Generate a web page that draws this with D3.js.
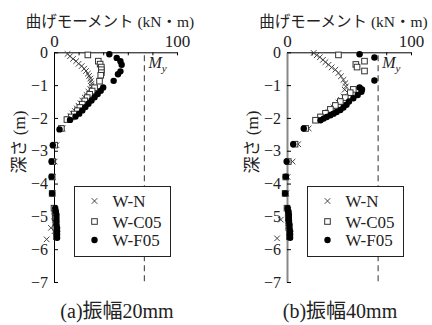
<!DOCTYPE html>
<html>
<head>
<meta charset="utf-8">
<script src="https://cdn.jsdelivr.net/npm/d3@7"></script>
<style>
body { margin: 0; background: #fff; }
svg text { font-family: "Liberation Serif", "Noto Sans CJK JP", serif; fill: #222; }
</style>
</head>
<body>
<div id="chart"></div>
<script>
// moment (kN·m), depth (m) for each specimen
// (a) amplitude 20mm
var wnA = [[11,-0.05],[13,-0.12],[15.5,-0.2],[18,-0.27],[20,-0.35],[22.5,-0.42],[24.5,-0.5],[26,-0.57],[27.5,-0.65],[28.5,-0.72],[29.5,-0.8],[30,-0.88],[30.5,-0.96],[30.5,-1.04],[29.5,-1.12],[28,-1.2],[26.5,-1.3],[25,-1.38],[23,-1.47],[21.5,-1.55],[20,-1.63],[18.5,-1.71],[17,-1.79],[15,-1.87],[13.5,-1.95],[12,-2.03],[7,-2.32],[2,-2.83],[0.5,-3.33],[-1,-3.8],[-1,-4.3],[0.5,-4.8],[0,-5.0],[1,-5.1],[-2.5,-5.35],[0.5,-5.45],[-6,-5.7]];
var c05A = [[27.5,-0.08],[36,-0.27],[37.5,-0.36],[38.5,-0.45],[38.5,-0.53],[38.5,-0.62],[38,-0.7],[37,-0.88],[33,-1.08],[31,-1.18],[29,-1.28],[27,-1.38],[25,-1.48],[23,-1.58],[21,-1.68],[19,-1.78],[16.5,-1.88],[14,-1.97],[10.5,-2.05],[6,-2.32],[0.5,-2.83],[-1,-3.33],[-1.5,-3.8],[-1.5,-4.3],[0,-4.75],[1,-4.9],[1,-5.05],[1.5,-5.2],[1.5,-5.35],[2,-5.5],[2,-5.62]];
var f05A = [[45,-0.06],[51,-0.17],[54,-0.27],[55,-0.38],[54,-0.58],[52,-0.67],[48.5,-0.87],[40,-1.07],[38,-1.17],[35.5,-1.27],[33,-1.37],[30.5,-1.47],[28,-1.57],[25.5,-1.67],[23,-1.77],[20.5,-1.87],[17.5,-1.96],[13,-2.06],[4.5,-2.35],[-1,-2.83],[-2,-3.33],[-2,-3.79],[-1.5,-4.3],[1,-4.75],[1.5,-4.85],[2,-4.95],[2,-5.05],[2,-5.15],[2,-5.25],[2.5,-5.35],[2.5,-5.45],[2.5,-5.55],[2.5,-5.65]];

// (b) amplitude 40mm
var wnB = [[21.5,-0.02],[24,-0.09],[26.5,-0.15],[29,-0.23],[31,-0.3],[33.5,-0.38],[36,-0.46],[39,-0.53],[41.5,-0.63],[43.5,-0.73],[45.5,-0.84],[47,-0.94],[47.5,-1.04],[46.5,-1.14],[45.5,-1.35],[43.5,-1.45],[41.5,-1.53],[39.5,-1.6],[37.5,-1.68],[35.5,-1.76],[33.5,-1.82],[31.5,-1.88],[29,-1.96],[26,-2.06],[17.5,-2.32],[9,-2.8],[4.5,-3.33],[0.5,-3.8],[-0.5,-4.3],[1,-4.8],[-5,-5.1],[1,-5.3],[-8,-5.67]];
var c05B = [[41.5,-0.08],[62.5,-0.27],[55.5,-0.37],[56.5,-0.45],[62.5,-0.57],[53.5,-1.13],[51,-1.23],[47,-1.38],[43,-1.5],[39,-1.62],[35,-1.74],[31,-1.86],[27,-1.97],[23,-2.07],[15,-2.32],[6.5,-2.8],[1,-3.33],[-1,-3.8],[-1.5,-4.3],[0,-4.75],[1,-4.9],[1,-5.05],[1.5,-5.2],[1.5,-5.35],[2,-5.5],[2,-5.62]];
var f05B = [[58.5,-0.06],[70.5,-0.16],[70.5,-0.86],[58.5,-1.07],[60.5,-1.13],[60,-1.2],[57,-1.3],[53.5,-1.4],[50,-1.5],[48,-1.6],[45.5,-1.68],[43,-1.76],[40,-1.82],[37.5,-1.87],[35,-1.92],[32,-1.97],[29.5,-2.02],[27,-2.07],[13.5,-2.32],[5,-2.8],[-0.3,-3.33],[-1,-3.79],[-1.5,-4.3],[0.5,-4.75],[1,-4.85],[1.5,-4.95],[1.5,-5.05],[1.5,-5.15],[2,-5.25],[2,-5.35],[2.5,-5.45],[2.5,-5.55],[2.5,-5.65]];

var seriesNames = ["W-N", "W-C05", "W-F05"];
var xTicks = [0, 20, 40, 60, 80, 100];
var xTickLabels = ["0", "", "", "", "", "100"];
var yTicks = [0, -1, -2, -3, -4, -5, -6, -7];
var myValue = 73.5;
var xTitle = "曲げモーメント (kN・m)";
var yTitle = "深さ (m)";
var captions = ["(a)振幅20mm", "(b)振幅40mm"];

var width = 432,
    height = 325;
var serif = "'Liberation Serif', 'Noto Sans CJK JP', serif";

var panels = [
    { x0: 54, x1: 177, data: [wnA, c05A, f05A], caption: captions[0], capX: 117, axisColor: "#000", axisW: 1 },
    { x0: 287, x1: 411, data: [wnB, c05B, f05B], caption: captions[1], capX: 340, axisColor: "#888", axisW: 2 }
];

var svg = d3.select("#chart")
    .append("svg")
    .attr("width", width)
    .attr("height", height);

var yScale = d3.scaleLinear()
    .domain([0, -7])
    .range([52.3, 282]);

panels.forEach(function(p) {
    var g = svg.append("g");

    var xScale = d3.scaleLinear()
        .domain([0, 100])
        .range([p.x0, p.x1]);

    // dashed yield moment line
    g.append("line")
        .attr("x1", xScale(myValue))
        .attr("x2", xScale(myValue))
        .attr("y1", yScale(0) + 3)
        .attr("y2", yScale(-7) + 3)
        .attr("stroke", "#555")
        .attr("stroke-width", 1.2)
        .attr("stroke-dasharray", "6,4");

    g.append("text")
        .attr("x", xScale(myValue) + 4)
        .attr("y", 68)
        .style("font-size", "16px")
        .style("font-style", "italic")
        .text("M")
        .append("tspan")
        .attr("dy", 4)
        .style("font-size", "11px")
        .text("y");

    // top axis
    var xAxis = d3.axisTop(xScale)
        .tickValues(xTicks)
        .tickFormat(function(d, i) { return xTickLabels[i]; })
        .tickSizeInner(-3)
        .tickSizeOuter(0)
        .tickPadding(5);
    var gx = g.append("g")
        .attr("transform", "translate(0," + yScale(0) + ")")
        .call(xAxis)
        .attr("font-family", null)
        .style("font-family", serif);
    gx.selectAll("text")
        .style("font-size", "17px")
        .attr("fill", "#222");
    gx.selectAll("path, line").attr("stroke", "#000");

    // left axis
    var yAxis = d3.axisLeft(yScale)
        .tickValues(yTicks)
        .tickFormat(d3.format("d"))
        .tickSizeInner(-4)
        .tickSizeOuter(0)
        .tickPadding(6);
    var gy = g.append("g")
        .attr("transform", "translate(" + p.x0 + ",0)")
        .call(yAxis)
        .attr("font-family", null)
        .style("font-family", serif);
    gy.selectAll("text")
        .style("font-size", "16px")
        .attr("fill", "#222");
    gy.select("path.domain")
        .attr("stroke", p.axisColor)
        .attr("stroke-width", p.axisW);
    gy.selectAll("line").attr("stroke", "#000");

    // titles
    g.append("text")
        .attr("x", (p.x0 + p.x1) / 2 - 5.5)
        .attr("y", 27)
        .attr("text-anchor", "middle")
        .style("font-size", "15.5px")
        .text(xTitle);

    g.append("text")
        .attr("transform", "translate(" + (p.x0 - 29) + ",142) rotate(-90)")
        .attr("text-anchor", "middle")
        .style("font-size", "17px")
        .text(yTitle);

    g.append("text")
        .attr("x", p.capX)
        .attr("y", 318)
        .attr("text-anchor", "middle")
        .style("font-size", "20px")
        .text(p.caption);

    // W-N crosses
    g.selectAll("path.wn")
        .data(p.data[0])
        .enter()
        .append("path")
        .attr("class", "wn")
        .attr("transform", function(d) { return "translate(" + xScale(d[0]) + "," + yScale(d[1]) + ")"; })
        .attr("d", "M-2.8,-2.8L2.8,2.8M-2.8,2.8L2.8,-2.8")
        .attr("stroke", "#444")
        .attr("stroke-width", 1)
        .attr("fill", "none");

    // W-C05 squares
    g.selectAll("rect.c05")
        .data(p.data[1])
        .enter()
        .append("rect")
        .attr("class", "c05")
        .attr("x", function(d) { return xScale(d[0]) - 2.8; })
        .attr("y", function(d) { return yScale(d[1]) - 2.8; })
        .attr("width", 5.6)
        .attr("height", 5.6)
        .attr("fill", "#fff")
        .attr("stroke", "#333")
        .attr("stroke-width", 1);

    // W-F05 circles
    g.selectAll("circle.f05")
        .data(p.data[2])
        .enter()
        .append("circle")
        .attr("class", "f05")
        .attr("cx", function(d) { return xScale(d[0]); })
        .attr("cy", function(d) { return yScale(d[1]); })
        .attr("r", 3.2)
        .attr("fill", "#000");

    // legend
    var lx = p.x0 + 20.5,
        ly = 186.5;
    var leg = g.append("g")
        .attr("transform", "translate(" + lx + "," + ly + ")");
    leg.append("rect")
        .attr("width", 96)
        .attr("height", 70)
        .attr("fill", "#fff")
        .attr("stroke", "#222")
        .attr("stroke-width", 1);
    var rows = [14.5, 35, 53.5];
    seriesNames.forEach(function(name, i) {
        var mx = 20, my = rows[i];
        if (i === 0) {
            leg.append("path")
                .attr("transform", "translate(" + mx + "," + my + ")")
                .attr("d", "M-2.8,-2.8L2.8,2.8M-2.8,2.8L2.8,-2.8")
                .attr("stroke", "#444")
                .attr("fill", "none");
        } else if (i === 1) {
            leg.append("rect")
                .attr("x", mx - 2.8)
                .attr("y", my - 2.8)
                .attr("width", 5.6)
                .attr("height", 5.6)
                .attr("fill", "#fff")
                .attr("stroke", "#333");
        } else {
            leg.append("circle")
                .attr("cx", mx)
                .attr("cy", my)
                .attr("r", 3.2)
                .attr("fill", "#000");
        }
        leg.append("text")
            .attr("x", 38)
            .attr("y", my + 6)
            .style("font-size", "17px")
            .text(name);
    });
});
</script>
</body>
</html>
